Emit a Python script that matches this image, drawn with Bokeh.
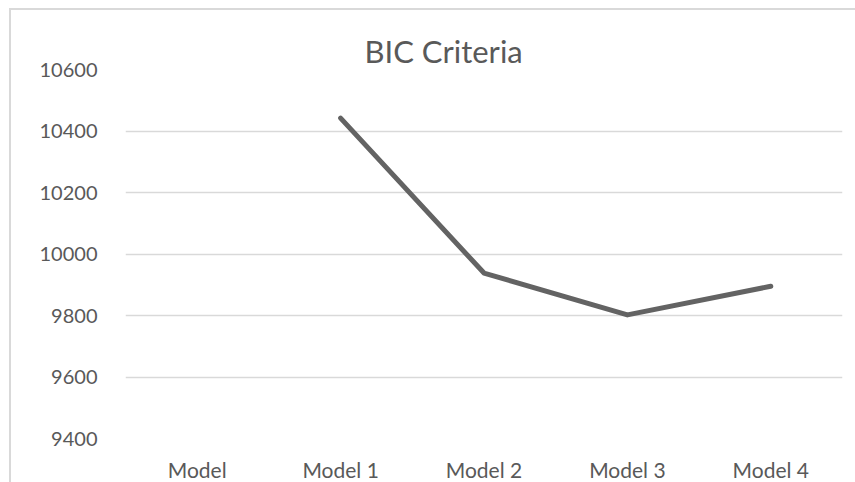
from bokeh.plotting import figure
from bokeh.models import ColumnDataSource, FactorRange, FixedTicker
from bokeh.embed import file_html
from bokeh.resources import INLINE

# BIC values per model (the first category has no value)
models = ["Model", "Model 1", "Model 2", "Model 3", "Model 4"]
plotted_models = ["Model 1", "Model 2", "Model 3", "Model 4"]
bic_values = [10442, 9938, 9802, 9895]
y_ticks = [9400, 9600, 9800, 10000, 10200, 10400, 10600]

FONT = "Lato"
TEXT_COLOR = "#595959"
GRID_COLOR = "#d9d9d9"

source = ColumnDataSource(data=dict(model=plotted_models, bic=bic_values))

p = figure(
    x_range=FactorRange(*models, range_padding=0),
    y_range=(9400, 10600),
    width=846, height=474,
    output_backend="svg", toolbar_location=None,
    min_border_left=114, min_border_right=15,
    min_border_top=59, min_border_bottom=43,
)
p.margin = (8, 0, 0, 9)
p.styles = {"border-left": f"2px solid {GRID_COLOR}", "border-top": f"2px solid {GRID_COLOR}"}
p.outline_line_color = None
p.background_fill_color = "white"
p.border_fill_color = "white"

p.title.text = "BIC Criteria"
p.title.text_font = FONT
p.title.text_font_size = "31px"
p.title.text_font_style = "normal"
p.title.text_color = TEXT_COLOR
p.title.align = "left"
p.title.offset = 239
p.title.standoff = 0

p.line(x="model", y="bic", source=source, line_color="#636363",
       line_width=5, line_cap="round", line_join="round")

# axes
p.xaxis.axis_line_color = None
p.xaxis.major_tick_line_color = None
p.xaxis.minor_tick_line_color = None
p.xaxis.major_label_text_font = FONT
p.xaxis.major_label_text_font_size = "21px"
p.xaxis.major_label_text_color = TEXT_COLOR
p.xaxis.major_label_standoff = 12

p.yaxis.ticker = FixedTicker(ticks=y_ticks)
p.yaxis.axis_line_color = None
p.yaxis.major_tick_line_color = None
p.yaxis.minor_tick_line_color = None
p.yaxis.major_label_text_font = FONT
p.yaxis.major_label_text_font_size = "20px"
p.yaxis.major_label_text_color = TEXT_COLOR
p.yaxis.major_label_standoff = 22

p.xgrid.grid_line_color = None
p.ygrid.ticker = FixedTicker(ticks=y_ticks)
p.ygrid.grid_line_color = GRID_COLOR
p.ygrid.grid_line_width = 1.5

open("out.html", "w").write(file_html(p, INLINE))
